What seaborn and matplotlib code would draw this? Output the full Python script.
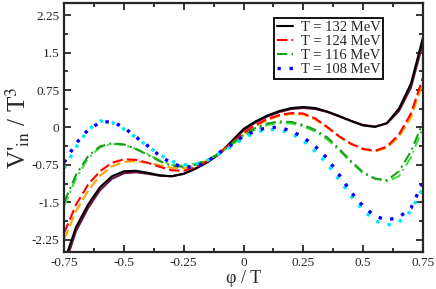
import numpy as np
import pandas as pd
import matplotlib
matplotlib.use("Agg")
import matplotlib.pyplot as plt
import seaborn as sns

phi = [-0.75, -0.70, -0.65, -0.60, -0.55, -0.50, -0.45, -0.40, -0.35, -0.30, -0.25,
       -0.20, -0.15, -0.10, -0.05, 0.00, 0.05, 0.10, 0.15, 0.20, 0.25, 0.30, 0.35,
       0.40, 0.45, 0.50, 0.55, 0.60, 0.65, 0.70, 0.75]

# T = 132 MeV (black) and companion (maroon)
v132a = [-2.70, -2.00, -1.55, -1.20, -0.98, -0.88, -0.87, -0.91, -0.96, -0.98, -0.93,
         -0.82, -0.69, -0.52, -0.28, -0.03, 0.12, 0.24, 0.33, 0.39, 0.41, 0.39, 0.32,
         0.23, 0.13, 0.04, 0.01, 0.09, 0.38, 0.88, 1.80]
v132b = [-2.80, -2.08, -1.62, -1.26, -1.03, -0.92, -0.90, -0.93, -0.97, -0.98, -0.93,
         -0.83, -0.70, -0.53, -0.30, -0.06, 0.10, 0.22, 0.31, 0.37, 0.39, 0.37, 0.31,
         0.22, 0.13, 0.05, 0.02, 0.08, 0.33, 0.80, 1.70]
# T = 124 MeV (red) and companion (orange)
v124a = [-2.12, -1.55, -1.15, -0.88, -0.71, -0.64, -0.65, -0.71, -0.79, -0.86, -0.87,
         -0.80, -0.67, -0.51, -0.31, -0.11, 0.05, 0.17, 0.25, 0.29, 0.28, 0.18, 0.01,
         -0.18, -0.33, -0.43, -0.47, -0.38, -0.14, 0.28, 1.00]
v124b = [-2.25, -1.68, -1.27, -0.97, -0.78, -0.69, -0.68, -0.71, -0.76, -0.81, -0.82,
         -0.77, -0.66, -0.51, -0.32, -0.13, 0.03, 0.15, 0.23, 0.27, 0.26, 0.16, 0.00,
         -0.18, -0.33, -0.44, -0.48, -0.41, -0.19, 0.20, 0.90]
# T = 116 MeV (green) and companion (light green)
v116a = [-1.50, -0.95, -0.58, -0.38, -0.32, -0.34, -0.43, -0.55, -0.68, -0.77, -0.79,
         -0.75, -0.66, -0.52, -0.33, -0.15, -0.01, 0.08, 0.12, 0.11, 0.05, -0.05, -0.20,
         -0.43, -0.68, -0.90, -1.03, -1.06, -0.88, -0.48, 0.10]
v116b = [-1.58, -1.02, -0.62, -0.40, -0.33, -0.35, -0.43, -0.54, -0.66, -0.75, -0.77,
         -0.73, -0.65, -0.52, -0.35, -0.18, -0.04, 0.05, 0.09, 0.08, 0.02, -0.08, -0.24,
         -0.46, -0.70, -0.92, -1.02, -1.08, -0.98, -0.60, 0.00]
# T = 108 MeV (blue) and companion (cyan)
v108a = [-0.70, -0.32, -0.05, 0.10, 0.12, 0.00, -0.19, -0.37, -0.57, -0.72, -0.80,
         -0.79, -0.68, -0.50, -0.35, -0.17, -0.07, 0.00, 0.00, -0.07, -0.20, -0.38, -0.62,
         -0.95, -1.30, -1.58, -1.78, -1.86, -1.80, -1.62, -1.10]
v108b = [-0.82, -0.40, -0.05, 0.13, 0.10, -0.03, -0.20, -0.38, -0.55, -0.68, -0.75,
         -0.74, -0.66, -0.52, -0.38, -0.22, -0.10, -0.04, -0.05, -0.12, -0.27, -0.48, -0.73,
         -1.05, -1.38, -1.66, -1.87, -1.96, -1.90, -1.68, -1.22]

labels = ["T = 132 MeV", "T = 124 MeV", "T = 116 MeV", "T = 108 MeV"]
xticks = [-0.75, -0.5, -0.25, 0, 0.25, 0.5, 0.75]
xticklabels = ["-0.75", "-0.5", "-0.25", "0", "0.25", "0.5", "0.75"]
yticks = [2.25, 1.5, 0.75, 0, -0.75, -1.5, -2.25]
yticklabels = ["2.25", "1.5", "0.75", "0", "-0.75", "-1.5", "-2.25"]

sns.set_style("ticks")
plt.rcParams["font.family"] = ["Liberation Serif", "DejaVu Serif"]
plt.rcParams["mathtext.fontset"] = "stix"

fig = plt.figure(figsize=(4.36, 2.89), dpi=100)
ax = fig.add_axes([0.147, 0.128, 0.823, 0.862])

pairs = [
    (v132a, v132b, "#000000", "#6b1040", "-", labels[0]),
    (v124a, v124b, "#ff0000", "#ffa500", (0, (5, 2)), labels[1]),
    (v116a, v116b, "#1e9e1e", "#3ee03e", (0, (5, 2, 1, 2)), labels[2]),
    (v108a, v108b, "#0000ff", "#00e5ff", (0, (1, 2.6)), labels[3]),
]
for a, b, c1, c2, ls, lab in pairs:
    lw = 2.4 if ls == (0, (1, 2.6)) else 1.5
    sns.lineplot(x=phi, y=b, ax=ax, color=c2, linestyle=ls, linewidth=lw)
    sns.lineplot(x=phi, y=a, ax=ax, color=c1, linestyle=ls, linewidth=lw, label=lab)

ax.set_xlim(-0.75, 0.75)
ax.set_ylim(-2.5, 2.5)
ax.set_xticks(xticks)
ax.set_xticklabels(xticklabels)
ax.set_yticks(yticks)
ax.set_yticklabels(yticklabels)
ax.set_xticks(np.arange(-0.625, 0.75, 0.25), minor=True)
ax.set_yticks(np.arange(-1.875, 2.5, 0.75), minor=True)
ax.tick_params(which="both", direction="in", top=True, right=True, width=1.3, labelsize=9.5)
ax.tick_params(which="major", length=5)
ax.tick_params(which="minor", length=3)
for s in ax.spines.values():
    s.set_linewidth(1.6)

ax.set_xlabel("φ / T", fontsize=13, labelpad=1)
ax.set_ylabel(r"V'$_{\rm in}$ / T$^3$", fontsize=18, labelpad=0)

leg = ax.legend(loc="upper right", bbox_to_anchor=(0.89, 0.94), fontsize=10.5,
                frameon=True, fancybox=False, edgecolor="black", framealpha=1,
                handlelength=1.1, handletextpad=0.5, borderpad=0.2, labelspacing=0.05,
                borderaxespad=0)
leg.get_frame().set_linewidth(1.3)

fig.savefig("out.png", dpi=100)
